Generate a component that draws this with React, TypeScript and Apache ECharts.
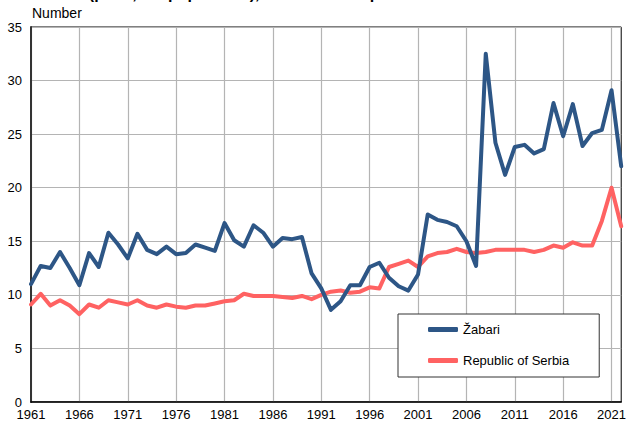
import React, { useEffect, useRef } from "react";
import * as echarts from "echarts";

const years: string[] = [];
for (let y = 1961; y <= 2022; y++) years.push(String(y));

const zabari = [
  11.0, 12.7, 12.5, 14.0, 12.5, 10.9, 13.9, 12.6, 15.8, 14.7,
  13.4, 15.7, 14.2, 13.8, 14.5, 13.8, 13.9, 14.7, 14.4, 14.1,
  16.7, 15.1, 14.5, 16.5, 15.8, 14.5, 15.3, 15.2, 15.4, 12.0,
  10.6, 8.6, 9.4, 10.9, 10.9, 12.6, 13.0, 11.6, 10.8, 10.4,
  11.9, 17.5, 17.0, 16.8, 16.4, 15.0, 12.7, 32.5, 24.2, 21.2,
  23.8, 24.0, 23.2, 23.6, 27.9, 24.8, 27.8, 23.9, 25.1, 25.4,
  29.1, 22.0,
];

const serbia = [
  9.1, 10.1, 9.0, 9.5, 9.0, 8.2, 9.1, 8.8, 9.5, 9.3,
  9.1, 9.5, 9.0, 8.8, 9.1, 8.9, 8.8, 9.0, 9.0, 9.2,
  9.4, 9.5, 10.1, 9.9, 9.9, 9.9, 9.8, 9.7, 9.9, 9.6,
  10.0, 10.3, 10.4, 10.2, 10.3, 10.7, 10.6, 12.6, 12.9, 13.2,
  12.6, 13.6, 13.9, 14.0, 14.3, 14.0, 13.9, 14.0, 14.2, 14.2,
  14.2, 14.2, 14.0, 14.2, 14.6, 14.4, 14.9, 14.6, 14.6, 16.9,
  20.0, 16.4,
];

const seriesNames = ["Žabari", "Republic of Serbia"];
const titleText = "Deaths (per 1,000 population), Žabari and Republic of Serbia";
const unitLabel = "Number";

export default function App() {
  const ref = useRef<HTMLDivElement>(null);
  useEffect(() => {
    if (!ref.current) return;
    document.body.style.margin = "0";
    const chart = echarts.init(ref.current, undefined, { renderer: "svg" });
    const font = "'Liberation Sans', Arial, sans-serif";
    chart.setOption({
      animation: false,
      textStyle: { fontFamily: font },
      grid: {
        left: 31,
        right: 4,
        top: 27,
        bottom: 24,
        show: true,
        borderColor: "#000",
        borderWidth: 1,
        backgroundColor: "transparent",
      },
      graphic: [
        {
          type: "text",
          left: 31,
          top: -15,
          style: { text: titleText, font: `bold 16px ${font}`, fill: "#000" },
        },
        {
          type: "text",
          left: 32,
          top: 6,
          style: { text: unitLabel, font: `14px ${font}`, fill: "#000" },
        },
      ],
      legend: {
        orient: "vertical",
        left: 398,
        top: 314,
        width: 205,
        padding: [9, 30, 10, 30],
        itemGap: 18,
        itemWidth: 30,
        itemHeight: 5,
        icon: "roundRect",
        borderColor: "#333",
        borderWidth: 1,
        backgroundColor: "#fff",
        textStyle: { fontSize: 13, color: "#000", fontFamily: font, padding: [0, 32, 0, 0] },
        data: seriesNames,
      },
      xAxis: {
        type: "category",
        data: years,
        boundaryGap: false,
        axisLine: { show: true, lineStyle: { color: "#000", width: 1.5 } },
        axisTick: { show: false },
        axisLabel: {
          interval: 4,
          fontSize: 13,
          color: "#000",
          margin: 6,
          fontFamily: font,
        },
        splitLine: {
          show: true,
          interval: 4,
          lineStyle: { color: "#b4b4b4", width: 1.2 },
        },
      },
      yAxis: {
        type: "value",
        min: 0,
        max: 35,
        interval: 5,
        axisLine: { show: true, lineStyle: { color: "#333", width: 2 } },
        axisTick: { show: false },
        axisLabel: { fontSize: 13, color: "#000", margin: 9, fontFamily: font },
        splitLine: { show: true, lineStyle: { color: "#b4b4b4", width: 1.2 } },
      },
      series: [
        {
          name: seriesNames[0],
          type: "line",
          data: zabari,
          showSymbol: false,
          symbol: "none",
          lineStyle: { color: "#2d5686", width: 4, cap: "round", join: "round" },
          itemStyle: { color: "#2d5686" },
          z: 3,
        },
        {
          name: seriesNames[1],
          type: "line",
          data: serbia,
          showSymbol: false,
          symbol: "none",
          lineStyle: { color: "#ff6262", width: 4, cap: "round", join: "round" },
          itemStyle: { color: "#ff6262" },
          z: 2,
        },
      ],
    });
    return () => chart.dispose();
  }, []);
  return (
    <div
      ref={ref}
      style={{ position: "absolute", left: 0, top: 0, width: 629, height: 426 }}
    />
  );
}
